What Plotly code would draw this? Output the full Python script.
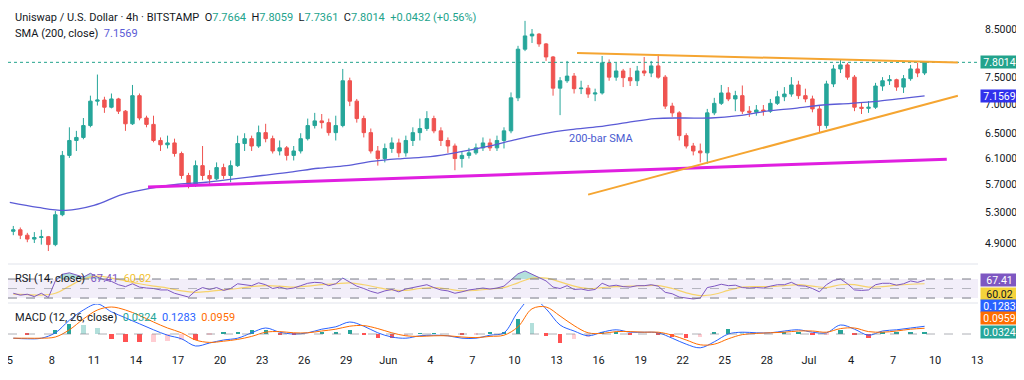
import math
import pandas as pd
import plotly.graph_objects as go

# ---------------- data (12h candles) ----------------
START = "2024-05-05 06:00"
opens = [5.05, 5.07, 5.00, 4.95, 4.97, 4.98, 4.88, 5.27, 6.14, 6.38,
         6.43, 6.63, 7.06, 7.08, 6.95, 7.10, 6.88, 6.66, 7.16, 6.76,
         6.65, 6.38, 6.31, 6.34, 6.17, 5.83, 5.70, 5.98, 5.83, 5.78,
         5.95, 5.83, 5.98, 6.33, 6.41, 6.29, 6.51, 6.41, 6.21, 6.26,
         6.14, 6.21, 6.41, 6.63, 6.71, 6.68, 6.51, 6.63, 7.44, 7.06,
         6.75, 6.51, 6.21, 6.09, 6.25, 6.34, 6.18, 6.38, 6.51, 6.58,
         6.75, 6.54, 6.38, 6.29, 6.09, 6.14, 6.18, 6.26, 6.34, 6.26,
         6.38, 6.54, 7.12, 8.07, 8.35, 8.39, 8.18, 7.91, 7.30, 7.44,
         7.53, 7.29, 7.30, 7.19, 7.21, 7.79, 7.51, 7.63, 7.50, 7.44,
         7.63, 7.59, 7.73, 7.51, 6.97, 6.85, 6.46, 6.29, 6.21, 6.18,
         6.85, 7.02, 7.21, 7.10, 7.16, 6.88, 6.86, 6.90, 6.88, 7.02,
         7.14, 7.19, 7.36, 7.16, 7.10, 6.92, 6.63, 7.38, 7.67, 7.75,
         7.51, 6.95, 6.93, 6.95, 7.34, 7.44, 7.46, 7.32, 7.48, 7.67,
         7.59]
highs = [5.12, 5.10, 5.03, 5.04, 5.07, 4.99, 5.32, 6.21, 6.60, 6.54,
         6.76, 7.16, 7.56, 7.14, 7.20, 7.12, 6.90, 7.36, 7.20, 6.80,
         6.80, 6.43, 6.46, 6.41, 6.20, 5.87, 6.06, 6.29, 5.91, 6.03,
         6.01, 6.06, 6.46, 6.50, 6.46, 6.63, 6.66, 6.46, 6.38, 6.29,
         6.29, 6.50, 6.75, 6.85, 6.83, 6.75, 6.80, 7.67, 7.50, 7.10,
         6.80, 6.58, 6.29, 6.33, 6.43, 6.41, 6.46, 6.60, 6.75, 6.88,
         6.80, 6.60, 6.43, 6.33, 6.21, 6.26, 6.33, 6.43, 6.41, 6.46,
         6.60, 7.22, 8.14, 8.68, 8.50, 8.41, 8.20, 7.93, 7.51, 7.83,
         7.59, 7.44, 7.36, 7.29, 7.93, 7.86, 7.79, 7.67, 7.69, 7.73,
         7.91, 7.83, 7.97, 7.55, 7.03, 6.88, 6.50, 6.34, 6.33, 6.92,
         7.12, 7.36, 7.32, 7.25, 7.35, 6.97, 6.99, 6.99, 7.10, 7.25,
         7.32, 7.51, 7.44, 7.29, 7.16, 6.99, 7.44, 7.75, 7.86, 7.79,
         7.55, 7.03, 7.06, 7.40, 7.51, 7.55, 7.48, 7.55, 7.75, 7.79,
         7.8059]
lows = [5.00, 4.95, 4.91, 4.90, 4.88, 4.80, 4.86, 5.25, 6.10, 6.21,
        6.40, 6.60, 6.98, 6.85, 6.93, 6.83, 6.54, 6.64, 6.72, 6.60,
        6.35, 6.21, 6.25, 6.12, 5.78, 5.64, 5.66, 5.76, 5.70, 5.76,
        5.78, 5.73, 5.96, 6.21, 6.21, 6.26, 6.35, 6.17, 6.14, 6.06,
        6.06, 6.17, 6.38, 6.58, 6.58, 6.46, 6.38, 6.60, 6.97, 6.68,
        6.43, 6.17, 5.98, 6.03, 6.18, 6.11, 6.12, 6.29, 6.38, 6.54,
        6.50, 6.29, 6.18, 5.91, 5.95, 6.09, 6.15, 6.21, 6.21, 6.21,
        6.25, 6.50, 7.06, 8.03, 8.20, 8.12, 7.83, 7.16, 6.81, 7.40,
        7.20, 7.19, 7.12, 7.06, 7.18, 7.44, 7.44, 7.32, 7.34, 7.34,
        7.53, 7.51, 7.48, 6.92, 6.78, 6.38, 6.25, 6.14, 6.03, 6.01,
        6.81, 6.99, 7.06, 6.88, 6.83, 6.78, 6.80, 6.80, 6.85, 6.99,
        7.06, 7.14, 7.10, 7.04, 6.86, 6.51, 6.58, 7.32, 7.59, 7.46,
        6.88, 6.83, 6.85, 6.92, 7.25, 7.36, 7.25, 7.21, 7.44, 7.51,
        7.55]
closes = [5.07, 5.00, 4.95, 4.97, 4.98, 4.88, 5.27, 6.14, 6.38, 6.43,
          6.63, 7.06, 7.08, 6.95, 7.10, 6.88, 6.66, 7.16, 6.76, 6.65,
          6.38, 6.31, 6.34, 6.17, 5.83, 5.70, 5.98, 5.83, 5.78, 5.95,
          5.83, 5.98, 6.33, 6.41, 6.29, 6.51, 6.41, 6.21, 6.26, 6.14,
          6.21, 6.41, 6.63, 6.71, 6.68, 6.51, 6.63, 7.44, 7.06, 6.75,
          6.51, 6.21, 6.09, 6.25, 6.34, 6.18, 6.38, 6.51, 6.58, 6.75,
          6.54, 6.38, 6.29, 6.09, 6.14, 6.18, 6.26, 6.34, 6.26, 6.38,
          6.54, 7.12, 8.07, 8.35, 8.39, 8.18, 7.91, 7.30, 7.44, 7.53,
          7.29, 7.30, 7.19, 7.21, 7.79, 7.51, 7.63, 7.50, 7.44, 7.63,
          7.59, 7.73, 7.51, 6.97, 6.85, 6.46, 6.29, 6.21, 6.18, 6.85,
          7.02, 7.21, 7.10, 7.16, 6.88, 6.86, 6.90, 6.88, 7.02, 7.14,
          7.19, 7.36, 7.16, 7.10, 6.92, 6.63, 7.38, 7.67, 7.75, 7.51,
          6.95, 6.93, 6.95, 7.34, 7.44, 7.46, 7.32, 7.48, 7.67, 7.59,
          7.8014]

# 200-bar SMA (days after May 5)
sma_days = [0, 2, 4, 6, 8, 10, 12, 14, 16, 18, 20, 22, 24, 26, 28, 30, 32,
            34, 36, 38, 40, 42, 44, 46, 48, 50, 52, 54, 56, 58, 60, 62, 64, 65.25]
sma_vals = [5.44, 5.37, 5.33, 5.40, 5.55, 5.64, 5.70, 5.73, 5.78, 5.83, 5.88,
            5.94, 5.98, 6.05, 6.09, 6.12, 6.19, 6.28, 6.39, 6.49, 6.56, 6.61,
            6.68, 6.75, 6.76, 6.76, 6.80, 6.88, 6.93, 6.99, 7.02, 7.06, 7.12, 7.1569]

# RSI(14) per 12h candle, RSI MA per day
rsi = [40, 36, 38, 33, 40, 31, 66, 80, 83, 78,
       74, 82, 74, 68, 65, 58, 54, 60, 53, 51,
       50, 47, 47, 40, 36, 32, 45, 52, 48, 52,
       46, 50, 60, 58, 56, 62, 58, 50, 53, 49,
       51, 56, 61, 63, 62, 56, 60, 72, 63, 55,
       50, 44, 40, 45, 48, 43, 49, 52, 54, 58,
       52, 47, 45, 40, 43, 47, 49, 51, 49, 51,
       55, 68, 81, 87, 80, 74, 66, 53, 50, 56,
       48, 49, 46, 48, 61, 55, 57, 54, 53, 56,
       56, 58, 55, 42, 39, 32, 30, 28, 30, 52,
       55, 59, 56, 57, 52, 51, 52, 51, 55, 58,
       58, 63, 56, 55, 50, 43, 58, 67, 70, 60,
       47, 46, 47, 58, 61, 61, 57, 60, 66, 63,
       67.41]
rsi_ma = [38, 37, 36, 40, 55, 70, 76, 72, 66, 60,
          55, 51, 45, 42, 44, 47, 50, 54, 56, 55,
          53, 55, 58, 60, 62, 58, 52, 47, 46, 50,
          52, 49, 45, 46, 49, 52, 62, 72, 72, 64,
          55, 50, 52, 54, 55, 56, 56, 50, 41, 35,
          38, 46, 53, 54, 54, 56, 58, 55, 52, 58,
          58, 53, 54, 57, 59, 60.02]

# MACD(12,26) and signal, per day
macd = [-0.07, -0.08, -0.07, 0.02, 0.23, 0.40, 0.50, 0.37, 0.27, 0.17,
        0.07, -0.02, -0.08, -0.20, -0.15, -0.10, -0.07, 0.02, 0.10, 0.03,
        0.00, 0.02, 0.08, 0.12, 0.20, 0.13, 0.02, -0.05, -0.07, -0.03,
        -0.02, -0.03, -0.07, -0.07, -0.02, 0.02, 0.37, 0.60, 0.42, 0.15,
        0.05, -0.03, 0.03, 0.07, 0.03, 0.03, 0.02, -0.07, -0.17, -0.23,
        -0.13, 0.00, 0.03, 0.02, 0.02, 0.05, 0.07, 0.03, 0.02, 0.15,
        0.08, -0.02, 0.05, 0.07, 0.10, 0.1283]
signal = [-0.07, -0.07, -0.07, -0.05, 0.07, 0.25, 0.40, 0.45, 0.40, 0.31,
          0.20, 0.10, 0.02, -0.10, -0.14, -0.12, -0.09, -0.04, 0.03, 0.04,
          0.02, 0.02, 0.05, 0.08, 0.13, 0.14, 0.09, 0.02, -0.03, -0.04,
          -0.03, -0.03, -0.05, -0.06, -0.04, -0.02, 0.12, 0.42, 0.45, 0.30,
          0.14, 0.02, 0.01, 0.04, 0.04, 0.03, 0.03, -0.02, -0.10, -0.18,
          -0.17, -0.08, -0.01, 0.01, 0.02, 0.03, 0.05, 0.05, 0.03, 0.09,
          0.10, 0.04, 0.03, 0.05, 0.08, 0.0959]

# drawn trend lines (date, price)
res_dates, res_prices = ["2024-06-14 11:00", "2024-07-11 15:00"], [7.99, 7.80]
sup_dates, sup_prices = ["2024-06-15 06:00", "2024-07-11 15:00"], [5.55, 7.16]
base_dates, base_prices = ["2024-05-14 20:40", "2024-07-10 20:00"], [5.66, 6.08]

tick_dates = ["2024-05-05", "2024-05-08", "2024-05-11", "2024-05-14", "2024-05-17",
              "2024-05-20", "2024-05-23", "2024-05-26", "2024-05-29", "2024-06-01",
              "2024-06-04", "2024-06-07", "2024-06-10", "2024-06-13", "2024-06-16",
              "2024-06-19", "2024-06-22", "2024-06-25", "2024-06-28", "2024-07-01",
              "2024-07-04", "2024-07-07", "2024-07-10", "2024-07-13"]
tick_text = ["5", "8", "11", "14", "17", "20", "23", "26", "29", "Jun", "4", "7",
             "10", "13", "16", "19", "22", "25", "28", "Jul", "4", "7", "10", "13"]
price_ticks = [4.9, 5.3, 5.7, 6.1, 6.5, 7.0, 7.5, 8.5]

last_price, sma_last = 7.8014, 7.1569
rsi_last, rsi_ma_last = 67.41, 60.02
macd_last, signal_last, hist_last = 0.1283, 0.0959, 0.0324

# ---------------- derived ----------------
candle_x = pd.date_range(START, periods=len(closes), freq="12h")
daily_x = candle_x[::2]
t0 = pd.Timestamp("2024-05-05")
sma_x = [t0 + pd.Timedelta(days=d) for d in sma_days]
hist = [round(m - s, 4) for m, s in zip(macd, signal)]
hist_colors = []
for i, h in enumerate(hist):
    prev = hist[i - 1] if i else 0
    if h >= 0:
        hist_colors.append("#26a69a" if h >= prev else "#b2dfdb")
    else:
        hist_colors.append("#ff5252" if h <= prev else "#ffcdd2")

X_RANGE = ["2024-05-04 20:56", "2024-07-13 01:26"]
FONT = "Roboto, Open Sans, sans-serif"
TXT = "#131722"
GREEN = "#22a38c"

fig = go.Figure()

# price pane
fig.add_trace(go.Scatter(x=X_RANGE, y=[last_price, last_price], mode="lines",
                         line=dict(color=GREEN, width=1, dash="dot"),
                         yaxis="y", hoverinfo="skip"))
fig.add_trace(go.Candlestick(x=candle_x, open=opens, high=highs, low=lows, close=closes,
                             increasing=dict(line=dict(color="#26a69a", width=1), fillcolor="#26a69a"),
                             decreasing=dict(line=dict(color="#ef5350", width=1), fillcolor="#ef5350"),
                             whiskerwidth=0, yaxis="y"))
fig.add_trace(go.Scatter(x=sma_x, y=sma_vals, mode="lines", line=dict(color="#5b5bd6", width=1.3, shape="spline"),
                         yaxis="y"))
fig.add_trace(go.Scatter(x=base_dates, y=base_prices, mode="lines", line=dict(color="#e01fe0", width=3), yaxis="y"))
fig.add_trace(go.Scatter(x=res_dates, y=res_prices, mode="lines", line=dict(color="#f5a531", width=2), yaxis="y"))
fig.add_trace(go.Scatter(x=sup_dates, y=sup_prices, mode="lines", line=dict(color="#f5a531", width=2), yaxis="y"))

# RSI pane
fig.add_trace(go.Scatter(x=candle_x, y=[70] * len(rsi), mode="lines", line=dict(width=0), yaxis="y2", hoverinfo="skip"))
fig.add_trace(go.Scatter(x=candle_x, y=[max(v, 70) for v in rsi], mode="lines", line=dict(width=0),
                         fill="tonexty", fillcolor="rgba(38,166,154,0.35)", yaxis="y2", hoverinfo="skip"))
fig.add_trace(go.Scatter(x=candle_x, y=[30] * len(rsi), mode="lines", line=dict(width=0), yaxis="y2", hoverinfo="skip"))
fig.add_trace(go.Scatter(x=candle_x, y=[min(v, 30) for v in rsi], mode="lines", line=dict(width=0),
                         fill="tonexty", fillcolor="rgba(242,54,69,0.3)", yaxis="y2", hoverinfo="skip"))
fig.add_trace(go.Scatter(x=daily_x, y=rsi_ma, mode="lines", line=dict(color="#f7d36b", width=1.2, shape="spline"),
                         yaxis="y2"))
fig.add_trace(go.Scatter(x=candle_x, y=rsi, mode="lines", line=dict(color="#7e57c2", width=1), yaxis="y2"))

# MACD pane
fig.add_trace(go.Bar(x=daily_x, y=hist, marker=dict(color=hist_colors, line=dict(width=0)),
                     width=0.3 * 86400000, yaxis="y3"))
fig.add_trace(go.Scatter(x=daily_x, y=macd, mode="lines", line=dict(color="#2962ff", width=1, shape="spline"),
                         yaxis="y3"))
fig.add_trace(go.Scatter(x=daily_x, y=signal, mode="lines", line=dict(color="#ff6d00", width=1, shape="spline"),
                         yaxis="y3"))

shapes = [
    dict(type="rect", xref="paper", x0=0, x1=1, yref="y2", y0=30, y1=70,
         fillcolor="rgba(126,87,194,0.10)", line=dict(width=0), layer="below"),
    dict(type="line", xref="paper", x0=0, x1=1, yref="y2", y0=70, y1=70,
         line=dict(color="#787b86", width=1, dash="dash")),
    dict(type="line", xref="paper", x0=0, x1=1, yref="y2", y0=50, y1=50,
         line=dict(color="rgba(120,123,134,0.5)", width=1, dash="dash")),
    dict(type="line", xref="paper", x0=0, x1=1, yref="y2", y0=30, y1=30,
         line=dict(color="#787b86", width=1, dash="dash")),
    dict(type="line", xref="paper", x0=0, x1=1, yref="y3", y0=0, y1=0,
         line=dict(color="rgba(120,123,134,0.6)", width=1, dash="dash")),
    dict(type="line", xref="paper", x0=0, x1=1, yref="paper", y0=0.2558, y1=0.2558,
         line=dict(color="#e0e3eb", width=1)),
    dict(type="line", xref="paper", x0=0, x1=1, yref="paper", y0=0.1424, y1=0.1424,
         line=dict(color="#e0e3eb", width=1)),
]


def box(yref, y, text, bg, fg="white", yshift=0):
    return dict(xref="paper", x=1, xanchor="left", xshift=2, yref=yref, y=y, yanchor="middle",
                yshift=yshift, text=text, showarrow=False, bgcolor=bg, width=37, height=12,
                font=dict(family=FONT, size=10.5, color=fg), borderpad=0)


up = "<span style='color:%s'>" % GREEN
header = ("Uniswap / U.S. Dollar · 4h · BITSTAMP&nbsp;&nbsp;O" + up + "7.7664</span>&nbsp;&nbsp;H" + up +
          "7.8059</span>&nbsp;&nbsp;L" + up + "7.7361</span>&nbsp;&nbsp;C" + up + "7.8014</span>&nbsp;&nbsp;" +
          up + "+0.0432 (+0.56%)</span>")
annotations = [
    dict(xref="paper", x=0, xanchor="left", xshift=5, yref="paper", y=1, yanchor="middle", yshift=-9,
         text=header, showarrow=False, font=dict(family=FONT, size=11, color=TXT)),
    dict(xref="paper", x=0, xanchor="left", xshift=5, yref="paper", y=1, yanchor="middle", yshift=-25,
         text="SMA (200, close)&nbsp;&nbsp;<span style='color:#5b5bd6'>%.4f</span>" % sma_last,
         showarrow=False, font=dict(family=FONT, size=11, color=TXT)),
    dict(xref="x", x="2024-06-16 04:00", yref="y", y=math.log10(6.41), text="200-bar SMA",
         showarrow=False, font=dict(family=FONT, size=11, color="#4a5bd0")),
    dict(xref="paper", x=0, xanchor="left", xshift=5, yref="y2", y=70, yanchor="middle", yshift=1,
         text="RSI (14, close)&nbsp;&nbsp;<span style='color:#7e57c2'>%.2f</span>&nbsp;&nbsp;<span style='color:#f2c230'>%.2f</span>"
              % (rsi_last, rsi_ma_last),
         showarrow=False, font=dict(family=FONT, size=11, color=TXT)),
    dict(xref="paper", x=0, xanchor="left", xshift=5, yref="y3", y=0.27, yanchor="middle",
         text="MACD (12, 26, close)&nbsp;&nbsp;<span style='color:#26a69a'>%.4f</span>&nbsp;&nbsp;"
              "<span style='color:#2962ff'>%.4f</span>&nbsp;&nbsp;<span style='color:#ff6d00'>%.4f</span>"
              % (hist_last, macd_last, signal_last),
         showarrow=False, font=dict(family=FONT, size=11, color=TXT)),
    box("y", math.log10(last_price), "%.4f" % last_price, GREEN),
    box("y", math.log10(sma_last), "%.4f" % sma_last, "#3131ec"),
    box("y2", rsi_last, "%.2f" % rsi_last, "#7e57c2"),
    box("y2", rsi_ma_last, "%.2f" % rsi_ma_last, "#f5d33b", fg=TXT, yshift=-10),
    box("y3", macd_last, "%.4f" % macd_last, "#2962ff", yshift=20),
    box("y3", signal_last, "%.4f" % signal_last, "#ff6d00", yshift=10),
    box("y3", hist_last, "%.4f" % hist_last, "#26a69a"),
]

# the page body adds an 8px offset, so the figure is 8px smaller than the window
fig.update_layout(
    width=1016, height=372, margin=dict(l=0, r=46, t=0, b=28),
    paper_bgcolor="white", plot_bgcolor="white", showlegend=False, hovermode=False,
    font=dict(family=FONT, size=11, color=TXT),
    xaxis=dict(type="date", range=X_RANGE, tickvals=tick_dates, ticktext=tick_text, showgrid=False,
               zeroline=False, anchor="y3", rangeslider=dict(visible=False), ticks="",
               ticklabeloverflow="allow", tickfont=dict(size=11, color=TXT)),
    yaxis=dict(type="log", domain=[0.2587, 1.0], range=[0.66786, 0.95291], side="right", anchor="x",
               tickvals=price_ticks, ticktext=["%.4f" % v for v in price_ticks], showgrid=False,
               zeroline=False, ticks="", ticklabelstandoff=6, tickfont=dict(size=10.5, color=TXT)),
    yaxis2=dict(domain=[0.1453, 0.2529], range=[21.6, 99.5], anchor="x", showticklabels=False,
                showgrid=False, zeroline=False),
    yaxis3=dict(domain=[0.0, 0.1395], range=[-0.30, 0.50], anchor="x", showticklabels=False,
                showgrid=False, zeroline=False),
    shapes=shapes, annotations=annotations, bargap=0,
)

fig.write_html("out.html")
